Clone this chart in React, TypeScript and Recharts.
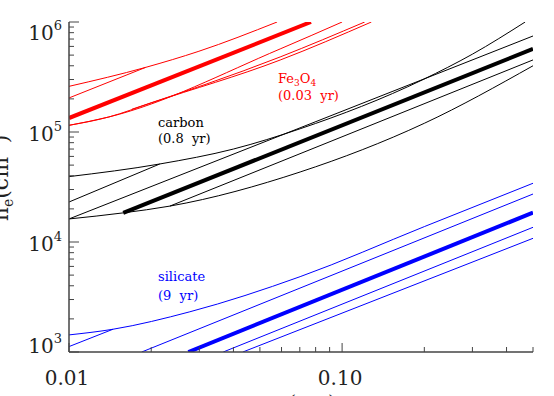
import { Line, LineChart, XAxis, YAxis } from "recharts";

// grain radius a (um) vs electron density n_e (cm^-3)
const fe3o4Upper = [[0.01, 2.6e5], [0.0191, 3.87e5], [0.0299, 5.42e5], [0.0578, 1e6]];
const fe3o4Merge = [[0.01, 2.04e5], [0.0191, 3.87e5]];
const fe3o4Main = [[0.01, 1.34e5], [0.0769, 1e6]];
const fe3o4Steep = [[0.01, 1.15e5], [0.014, 1.37e5], [0.0593, 5.69e5], [0.1, 1e6]];
const fe3o4Lower = [[0.01, 1.15e5], [0.014, 1.37e5], [0.02, 1.84e5], [0.0593, 4.51e5], [0.128, 1e6]];
const fe3o4Mid = [[0.017, 1.61e5], [0.0593, 4.81e5], [0.121, 1e6]];

const carbonUpper = [[0.01, 3.93e4], [0.0215, 5.12e4], [0.04, 7.0e4], [0.0702, 1.07e5], [0.198, 3.0e5], [0.3, 5.1e5], [0.468, 1e6]];
const carbonMerge = [[0.01, 2.31e4], [0.0215, 5.12e4]];
const carbonSteep = [[0.01, 1.62e4], [0.5, 7.46e5]];
const carbonMain = [[0.0158, 1.84e4], [0.5, 5.69e5]];
const carbonLower = [[0.01, 1.62e4], [0.0158, 1.84e4], [0.0234, 2.12e4], [0.0702, 4.33e4], [0.2, 1.2e5], [0.5, 4.0e5]];
const carbonMid = [[0.0234, 2.12e4], [0.5, 4.52e5]];

const silicateUpper = [[0.01, 1.43e3], [0.01449, 1.61e3], [0.0277, 2.32e3], [0.0702, 4.84e3], [0.2, 1.38e4], [0.5, 3.42e4]];
const silicateMerge = [[0.01, 1.12e3], [0.01449, 1.61e3]];
const silicateSteep = [[0.01846, 1e3], [0.5, 2.73e4]];
const silicateMain = [[0.02735, 1e3], [0.5, 1.85e4]];
const silicateLower = [[0.0367, 1e3], [0.5, 1.36e4]];
const silicateLowest = [[0.0433, 1e3], [0.5, 1.08e4]];

const xTicks = [0.01, 0.02, 0.03, 0.04, 0.05, 0.06, 0.07, 0.08, 0.09, 0.1, 0.2, 0.3, 0.4, 0.5];
const xLabelValues = [0.01, 0.1];
const xLabelTexts = ["0.01", "0.10"];
const yDecades = [1e3, 1e4, 1e5, 1e6];
const yExponents = ["3", "4", "5", "6"];

const yTicks = [
  ...yDecades.slice(0, 3).flatMap((d) => [1, 2, 3, 4, 5, 6, 7, 8, 9].map((m) => m * d)),
  1e6,
];

const RED = "#ff0000";
const BLUE = "#0000ff";
const BLACK = "#000000";
const AXIS = "#444";
const FONT = "'DejaVu Serif', serif";

const PLOT = { left: 69, right: 533, top: 22, bottom: 352 };

const toPoints = (pairs: number[][]) => pairs.map(([a, n]) => ({ a, n }));

const series = [
  { data: fe3o4Upper, color: RED, width: 1, curve: "monotone" },
  { data: fe3o4Merge, color: RED, width: 1, curve: "linear" },
  { data: fe3o4Main, color: RED, width: 4, curve: "linear" },
  { data: fe3o4Steep, color: RED, width: 1, curve: "monotone" },
  { data: fe3o4Lower, color: RED, width: 1, curve: "monotone" },
  { data: fe3o4Mid, color: RED, width: 1, curve: "monotone" },
  { data: carbonUpper, color: BLACK, width: 1, curve: "monotone" },
  { data: carbonMerge, color: BLACK, width: 1, curve: "linear" },
  { data: carbonSteep, color: BLACK, width: 1, curve: "linear" },
  { data: carbonMain, color: BLACK, width: 4, curve: "linear" },
  { data: carbonLower, color: BLACK, width: 1, curve: "monotone" },
  { data: carbonMid, color: BLACK, width: 1, curve: "linear" },
  { data: silicateUpper, color: BLUE, width: 1, curve: "monotone" },
  { data: silicateMerge, color: BLUE, width: 1, curve: "linear" },
  { data: silicateSteep, color: BLUE, width: 1, curve: "linear" },
  { data: silicateMain, color: BLUE, width: 4, curve: "linear" },
  { data: silicateLower, color: BLUE, width: 1, curve: "linear" },
  { data: silicateLowest, color: BLUE, width: 1, curve: "linear" },
];

const xLabelFor = (v: number) => {
  const i = xLabelValues.findIndex((t) => Math.abs(t - v) < 1e-9);
  return i >= 0 ? xLabelTexts[i] : null;
};
const yDecadeIndex = (v: number) => yDecades.findIndex((d) => Math.abs(d - v) < 1e-6 * d);

function XTickBottom(props: any) {
  const { x, payload } = props;
  const label = xLabelFor(payload.value);
  return (
    <g>
      <line x1={x} x2={x} y1={PLOT.bottom} y2={PLOT.bottom - (label ? 9 : 5)} stroke={AXIS} strokeWidth={1} />
      {label && (
        <text x={x - 2} y={385} textAnchor="middle" fontSize={20} fontFamily={FONT} fill="#222">
          {label}
        </text>
      )}
    </g>
  );
}

function XTickTop(props: any) {
  const { x, payload } = props;
  const major = xLabelFor(payload.value) !== null;
  return <line x1={x} x2={x} y1={PLOT.top} y2={PLOT.top + (major ? 9 : 5)} stroke={AXIS} strokeWidth={1} />;
}

function YTickLeft(props: any) {
  const { y, payload } = props;
  const i = yDecadeIndex(payload.value);
  const shift = payload.value >= 1e6 ? 10 : payload.value <= 1e3 ? -6.5 : 1;
  return (
    <g>
      <line x1={PLOT.left} x2={PLOT.left + (i >= 0 ? 10 : 5)} y1={y} y2={y} stroke={AXIS} strokeWidth={1} />
      {i >= 0 && (
        <text x={62} y={y + shift + 7.5} textAnchor="end" fontSize={20} fontFamily={FONT} fill="#222">
          10
          <tspan fontSize={13} dy={-10}>
            {yExponents[i]}
          </tspan>
        </text>
      )}
    </g>
  );
}

function YTickRight(props: any) {
  const { y, payload } = props;
  const major = yDecadeIndex(payload.value) >= 0;
  return <line x1={PLOT.right} x2={PLOT.right - (major ? 10 : 5)} y1={y} y2={y} stroke={AXIS} strokeWidth={1} />;
}

export default function App() {
  return (
    <div style={{ position: "absolute", left: 0, top: 0, width: 554, height: 396, background: "#fff" }}>
      <LineChart width={554} height={396} margin={{ top: PLOT.top, right: 554 - PLOT.right, left: 0, bottom: 0 }}>
        <XAxis
          dataKey="a"
          type="number"
          scale="log"
          domain={[0.01, 0.5]}
          allowDataOverflow
          ticks={xTicks}
          interval={0}
          tick={(p: any) => <XTickBottom {...p} />}
          tickLine={false}
          axisLine={{ stroke: AXIS, strokeWidth: 1.5 }}
          height={44}
        />
        <XAxis
          xAxisId="top"
          orientation="top"
          dataKey="a"
          type="number"
          scale="log"
          domain={[0.01, 0.5]}
          allowDataOverflow
          ticks={xTicks}
          interval={0}
          tick={(p: any) => <XTickTop {...p} />}
          tickLine={false}
          axisLine={{ stroke: AXIS, strokeWidth: 1.5 }}
          height={0}
        />
        <YAxis
          dataKey="n"
          type="number"
          scale="log"
          domain={[1e3, 1e6]}
          allowDataOverflow
          ticks={yTicks}
          interval={0}
          tick={(p: any) => <YTickLeft {...p} />}
          tickLine={false}
          axisLine={{ stroke: AXIS, strokeWidth: 1.5 }}
          width={PLOT.left}
        />
        <YAxis
          yAxisId="right"
          orientation="right"
          dataKey="n"
          type="number"
          scale="log"
          domain={[1e3, 1e6]}
          allowDataOverflow
          ticks={yTicks}
          interval={0}
          tick={(p: any) => <YTickRight {...p} />}
          tickLine={false}
          axisLine={{ stroke: AXIS, strokeWidth: 1.5 }}
          width={0}
        />
        {series.map((s, i) => (
          <Line
            key={i}
            data={toPoints(s.data)}
            dataKey="n"
            type={s.curve as any}
            stroke={s.color}
            strokeWidth={s.width}
            dot={false}
            activeDot={false}
            isAnimationActive={false}
          />
        ))}
      </LineChart>
      <svg
        width={554}
        height={396}
        style={{ position: "absolute", left: 0, top: 0, pointerEvents: "none" }}
        fontFamily={FONT}
      >
        <text x={278} y={83} fontSize={13} fill={RED}>
          Fe<tspan fontSize={9} dy={3}>3</tspan>
          <tspan dy={-3}>O</tspan>
          <tspan fontSize={9} dy={3}>4</tspan>
        </text>
        <text x={278} y={100} fontSize={13} fill={RED} style={{ whiteSpace: "pre" }}>
          (0.03  yr)
        </text>
        <text x={158} y={127} fontSize={13} fill={BLACK}>
          carbon
        </text>
        <text x={158} y={143} fontSize={13} fill={BLACK} style={{ whiteSpace: "pre" }}>
          (0.8  yr)
        </text>
        <text x={158} y={281} fontSize={13} fill={BLUE}>
          silicate
        </text>
        <text x={158} y={300} fontSize={13} fill={BLUE} style={{ whiteSpace: "pre" }}>
          (9  yr)
        </text>
        <text transform="translate(8,178) rotate(-90)" textAnchor="middle" fontSize={22} fill="#222">
          n<tspan fontSize={14} dy={5}>e</tspan>
          <tspan dy={-5}>(cm</tspan>
          <tspan fontSize={14} dy={-9}>-3</tspan>
          <tspan dy={9}>)</tspan>
        </text>
        <text x={303} y={410} textAnchor="middle" fontSize={20} fill="#222">
          a (μm)
        </text>
      </svg>
    </div>
  );
}
